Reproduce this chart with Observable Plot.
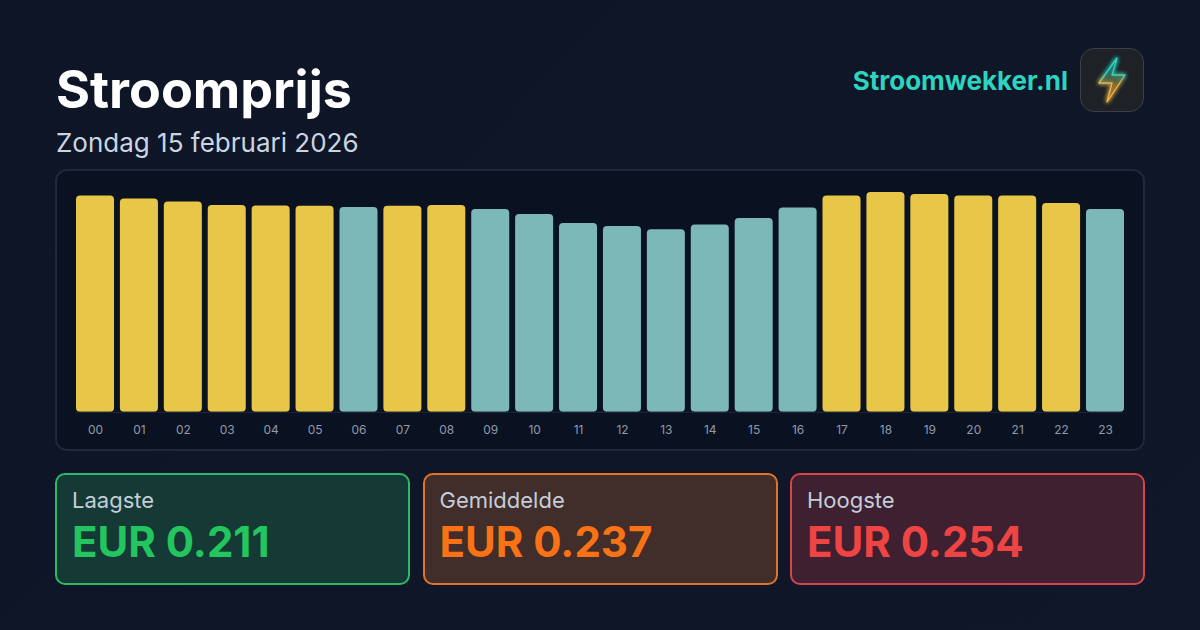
<!DOCTYPE html>
<html><head><meta charset="utf-8">
<script src="https://cdn.jsdelivr.net/npm/d3@7"></script>
<script src="https://cdn.jsdelivr.net/npm/@observablehq/plot@0.6"></script>
<style>
html,body{margin:0;padding:0;width:1200px;height:630px;overflow:hidden;background:#0f172a;font-family:Inter,sans-serif}
#page{position:relative;width:1200px;height:630px;background:linear-gradient(135deg,#0d1526,#0f1729)}
.abs{position:absolute;white-space:nowrap}
#title{left:56px;top:58px;font-size:52px;font-weight:700;line-height:63px;color:#fff}
#sub{left:56px;top:126px;font-size:26px;line-height:34px;color:#cbd5e1}
#brand{right:132px;top:64px;font-size:26px;font-weight:700;line-height:34px;color:#2dd4bf}
#logo{left:1080px;top:48px;width:62px;height:62px;border:1px solid #3a3f47;border-radius:14px;background:#1e2227}
#panel{left:55px;top:169px;width:1086px;height:278px;border:2px solid #1e293b;border-radius:12px;background:#0a1120}
#chart{left:-1px;top:-1px}
.card{position:absolute;top:473px;width:351px;height:108px;border:2px solid;border-radius:10px}
.card .l{position:absolute;left:15px;top:12px;font-size:22px;line-height:26px;color:#c4ced9}
.card .v{position:absolute;left:15px;top:41px;font-size:42px;font-weight:700;line-height:52px}
</style></head>
<body><div id="page">
<div class="abs" id="title">Stroomprijs</div>
<div class="abs" id="sub">Zondag 15 februari 2026</div>
<div class="abs" id="brand">Stroomwekker.nl</div>
<div class="abs" id="logo"><svg width="62" height="62" viewBox="0 0 62 62">
<defs><linearGradient id="bolt" x1="0" y1="0" x2="0" y2="1"><stop offset="0.35" stop-color="#2dd4bf"/><stop offset="0.6" stop-color="#f5b342"/></linearGradient>
<linearGradient id="boltFill" x1="0" y1="0" x2="0" y2="1"><stop offset="0.3" stop-color="#1f5f5a"/><stop offset="0.7" stop-color="#8a6a2c"/></linearGradient>
<filter id="glow" x="-60%" y="-60%" width="220%" height="220%"><feGaussianBlur stdDeviation="2" result="b"/><feMerge><feMergeNode in="b"/><feMergeNode in="b"/><feMergeNode in="SourceGraphic"/></feMerge></filter></defs>
<path d="M36 9 L31 26 L44 26 L26 53 L31 34 L18 34 Z" fill="url(#boltFill)" fill-opacity="0.55" stroke="url(#bolt)" stroke-width="1.3" stroke-linejoin="round" filter="url(#glow)"/>
</svg></div>
<div class="abs" id="panel"><div class="abs" id="chart"></div></div>
<div id="cards"></div>
</div>
<script>
const hours=["00","01","02","03","04","05","06","07","08","09","10","11","12","13","14","15","16","17","18","19","20","21","22","23"];
const prices=[0.250,0.2465,0.243,0.239,0.2385,0.238,0.2367,0.238,0.239,0.2344,0.2286,0.2182,0.2147,0.211,0.2165,0.224,0.2361,0.250,0.254,0.2517,0.250,0.250,0.2413,0.2344];
const average=0.237;
const cardLabels=["Laagste","Gemiddelde","Hoogste"];
const cardValues=["EUR 0.211","EUR 0.237","EUR 0.254"];
const cardColors=["#22c55e","#f97316","#ef4444"];
const cardBgs=["#153a35","#412d29","#3f2030"];
const cardBorders=["#2eb868","#e0742a","#d9434a"];
const cardLefts=[55,422.5,790];
const highColor="#e7c648",lowColor="#7db8b8";

const rows=hours.map((h,i)=>({hour:h,price:prices[i]}));
const plot=Plot.plot({
  width:1088,height:280,
  marginLeft:20,marginRight:19,marginTop:22,marginBottom:38,
  style:{background:"transparent",fontFamily:"Inter,sans-serif"},
  x:{domain:hours,paddingInner:0.134,paddingOuter:0,round:false,label:null},
  y:{domain:[0,0.254],axis:null},
  marks:[
    Plot.axisX({tickSize:0,tickPadding:13,fontSize:12,color:"#8f9bad",label:null}),
    Plot.barY(rows,{x:"hour",y:"price",fill:d=>d.price>=average?highColor:lowColor,rx:4}),
    Plot.ruleY([0],{stroke:"#1e293b",strokeWidth:1})
  ]
});
document.getElementById("chart").append(plot);
const cards=document.getElementById("cards");
cardLabels.forEach((l,i)=>{
  const c=document.createElement("div");c.className="card";
  c.style.left=cardLefts[i]+"px";c.style.background=cardBgs[i];c.style.borderColor=cardBorders[i];
  c.innerHTML=`<div class="l">${l}</div><div class="v" style="color:${cardColors[i]}">${cardValues[i]}</div>`;
  cards.append(c);
});
</script></body></html>
